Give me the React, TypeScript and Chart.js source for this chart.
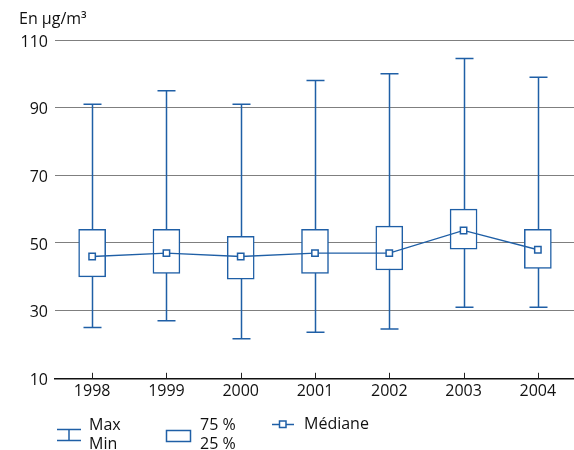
import React, { useEffect, useRef } from "react";
import { Chart, registerables } from "chart.js";

Chart.register(...registerables);

const categories = ["1998", "1999", "2000", "2001", "2002", "2003", "2004"];
const maxValues = [91, 95, 91, 98, 100, 104.5, 99];
const q75Values = [54, 54, 52, 54, 55, 60, 54];
const medianValues = [46, 47, 46, 47, 47, 53.7, 48];
const q25Values = [40, 41, 39.3, 41, 42, 48.2, 42.5];
const minValues = [25, 27, 21.7, 23.6, 24.6, 31, 31];
const yTicks = [10, 30, 50, 70, 90, 110];

const BLUE = "#1f5fa6";
const FONT = "'Open Sans', 'DejaVu Sans', sans-serif";
const CANVAS_W = 581;

const boxPlugin = {
  id: "boxExtras",
  beforeDatasetsDraw(chart: any) {
    const { ctx, scales } = chart;
    const xs = scales.x;
    const ys = scales.y;
    ctx.save();
    ctx.strokeStyle = BLUE;
    ctx.lineWidth = 1.5;
    const cap = 9;
    categories.forEach((_, i) => {
      const x = Math.round(xs.getPixelForValue(i)) + 0.5;
      const yMax = ys.getPixelForValue(maxValues[i]);
      const yMin = ys.getPixelForValue(minValues[i]);
      ctx.beginPath();
      ctx.moveTo(x, yMax);
      ctx.lineTo(x, yMin);
      ctx.moveTo(x - cap, yMax);
      ctx.lineTo(x + cap, yMax);
      ctx.moveTo(x - cap, yMin);
      ctx.lineTo(x + cap, yMin);
      ctx.stroke();
    });
    // inward ticks on x axis
    ctx.strokeStyle = "#222";
    ctx.lineWidth = 1;
    const bottom = chart.chartArea.bottom;
    categories.forEach((_, i) => {
      const x = Math.round(xs.getPixelForValue(i)) + 0.5;
      ctx.beginPath();
      ctx.moveTo(x, bottom - 5.5);
      ctx.lineTo(x, bottom);
      ctx.stroke();
    });
    ctx.restore();
  },
  afterDraw(chart: any) {
    const { ctx } = chart;
    ctx.save();
    ctx.fillStyle = "#111";
    ctx.font = `16px ${FONT}`;
    ctx.textBaseline = "middle";
    ctx.textAlign = "left";
    // axis unit title
    ctx.fillText("En µg/m³", 19, 19);

    // legend: whisker
    ctx.strokeStyle = BLUE;
    ctx.lineWidth = 1.5;
    ctx.beginPath();
    ctx.moveTo(57, 429.5);
    ctx.lineTo(81, 429.5);
    ctx.moveTo(57, 440.5);
    ctx.lineTo(81, 440.5);
    ctx.moveTo(69, 429.5);
    ctx.lineTo(69, 440.5);
    ctx.stroke();
    ctx.fillText("Max", 89, 425);
    ctx.fillText("Min", 89, 444);

    // legend: box
    ctx.strokeRect(166.5, 430.5, 24, 11);
    ctx.fillText("75 %", 200, 425);
    ctx.fillText("25 %", 200, 444);

    // legend: median
    ctx.beginPath();
    ctx.moveTo(272, 424.5);
    ctx.lineTo(294, 424.5);
    ctx.stroke();
    ctx.fillStyle = "#fff";
    ctx.fillRect(279.5, 421, 6.5, 6.5);
    ctx.strokeRect(279.5, 421, 6.5, 6.5);
    ctx.fillStyle = "#111";
    ctx.fillText("Médiane", 304, 424);
    ctx.restore();
  },
};

export default function App() {
  const ref = useRef<HTMLCanvasElement | null>(null);

  useEffect(() => {
    if (!ref.current) return;
    const chart = new Chart(ref.current, {
      type: "bar",
      data: {
        labels: categories,
        datasets: [
          {
            type: "line",
            label: "Médiane",
            data: medianValues,
            borderColor: BLUE,
            borderWidth: 1.3,
            pointStyle: "rect",
            pointRadius: 4.5,
            pointBorderWidth: 1.5,
            pointBackgroundColor: "#fff",
            pointBorderColor: BLUE,
            order: 0,
          } as any,
          {
            type: "bar",
            label: "25-75 %",
            data: q25Values.map((v, i) => [v, q75Values[i]]),
            backgroundColor: "#fff",
            borderColor: BLUE,
            borderWidth: 1.5,
            borderSkipped: false,
            barThickness: 27,
            order: 1,
          } as any,
        ],
      },
      plugins: [boxPlugin],
      options: {
        responsive: false,
        animation: false,
        layout: { padding: { top: 40, left: 0, right: 0, bottom: 0 } },
        plugins: {
          legend: { display: false },
          tooltip: { enabled: false },
          title: { display: false },
        },
        scales: {
          x: {
            offset: true,
            grid: { display: true, drawOnChartArea: false, drawTicks: false },
            border: { display: true, color: "#111", width: 1.5 },
            ticks: {
              color: "#111",
              font: { family: FONT, size: 16 },
              padding: 4,
              maxRotation: 0,
            },
            afterFit: (scale: any) => {
              scale.height = 71.7;
              scale.paddingLeft = 0;
              scale.paddingRight = 0;
            },
          },
          y: {
            min: 10,
            max: 110,
            afterBuildTicks: (scale: any) => {
              scale.ticks = yTicks.map((v) => ({ value: v }));
            },
            grid: { color: "#7f7f7f", lineWidth: 1, drawTicks: false },
            border: { display: false },
            ticks: {
              color: "#111",
              font: { family: FONT, size: 16 },
              padding: 7,
              labelOffset: 2,
            },
            afterFit: (scale: any) => {
              scale.width = 55;
            },
          },
        },
      },
    });
    return () => chart.destroy();
  }, []);

  return (
    <div
      style={{
        position: "fixed",
        left: 0,
        top: 0,
        width: 574,
        height: 450,
        overflow: "hidden",
        background: "#fff",
      }}
    >
      <canvas
        ref={ref}
        width={CANVAS_W}
        height={450}
        style={{ display: "block", width: CANVAS_W, height: 450 }}
      />
    </div>
  );
}
